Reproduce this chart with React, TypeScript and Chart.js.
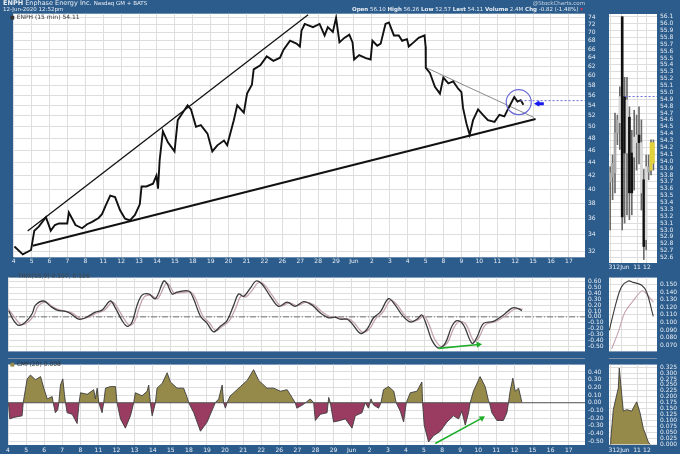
import React, { useEffect, useRef } from "react";
import { Chart, registerables } from "chart.js";

Chart.register(...registerables);

// ---------------- data ----------------
const dayLabels = ["4","5","6","7","8","11","12","13","14","15","18","19","20","21","22","26","27","28","29","Jun","2","3","4","5","8","9","10","11","12","15","16","17"];
const dayTicks = dayLabels.map((_, i) => i);
const priceTicks = [32,34,36,38,40,42,44,46,48,50,52,54,56,58,60,62,64,66,68,70,72,74];

const priceTime = [0.04,0.51,0.97,1.15,1.40,1.80,2.07,2.30,2.53,2.99,3.08,3.45,3.82,4.10,4.38,4.74,4.93,5.11,5.39,5.66,5.94,6.22,6.49,6.77,7.04,7.14,7.41,7.78,7.97,8.06,8.15,8.33,8.61,8.98,9.16,9.71,9.90,10.18,10.45,10.82,11.09,11.37,11.74,11.92,12.29,12.48,12.85,13.03,13.30,13.40,13.77,14.13,14.50,14.87,15.06,15.43,15.79,15.98,16.07,16.25,16.71,17.08,17.36,17.54,17.82,18.00,18.19,18.46,18.74,18.92,19.01,19.29,19.66,19.93,20.03,20.30,20.49,20.76,20.95,21.23,21.50,21.69,21.96,22.06,22.33,22.61,22.94,23.00,23.01,23.24,23.52,23.80,23.99,24.27,24.54,24.82,25.00,25.09,25.28,25.46,25.65,25.93,26.20,26.48,26.85,27.12,27.40,27.59,27.95,28.13,28.31,28.46];
const priceValue = [32.6,31.7,32.2,34.5,35.0,36.2,34.5,35.2,35.4,35.4,36.8,35.2,34.8,35.3,35.6,36.1,36.6,37.6,39.1,38.9,37.1,36.0,35.8,36.5,37.9,40.4,40.4,40.8,42.0,40.1,44.4,49.2,47.3,45.8,51.2,54.0,53.2,50.0,50.3,48.8,45.8,46.8,47.6,46.8,51.2,54.0,52.6,56.3,58.1,61.4,62.3,64.3,63.3,64.0,65.8,68.0,67.3,66.6,70.5,72.2,71.4,72.2,69.3,71.4,70.2,73.8,67.6,68.7,69.5,67.6,63.6,64.6,63.9,63.6,68.0,66.8,67.3,72.2,72.6,69.3,69.3,68.0,68.4,66.6,67.6,68.7,69.3,66.6,61.7,60.6,57.7,56.3,59.6,58.4,58.8,57.3,56.6,53.5,50.6,48.6,51.2,53.2,52.2,51.2,50.9,52.2,51.9,53.2,55.6,54.7,55.0,54.1];

// hand-drawn annotations on the price panel
const upperLineTime = [0.78, 16.44];
const upperLineValue = [34.46, 74.6];
const lowerLineTime = [1.06, 29.14];
const lowerLineValue = [32.7, 51.4];
const grayLineTime = [23.07, 29.05];
const grayLineValue = [61.7, 51.7];
const circleTime = [28.2];
const circleValue = [54.6];
const blueArrowTime = [29.25, 29.6];
const blueArrowValue = [54.3, 54.3];
const lastLineTime = [28.3, 31.9];
const lastLineValue = [54.9, 54.9];

// TRIX panel
const trixTicks = [-0.5,-0.4,-0.3,-0.2,-0.1,0,0.1,0.2,0.3,0.4,0.5,0.6];
const trixTime = [0.04,0.32,0.60,0.97,1.34,1.52,1.98,2.35,2.72,3.18,3.45,3.91,4.28,4.83,5.20,5.66,5.94,6.31,6.59,6.86,7.14,7.41,7.78,8.15,8.61,8.80,9.07,9.35,9.99,10.27,10.64,11.01,11.37,11.74,12.11,12.48,12.75,13.03,13.40,13.71,14.04,14.50,14.96,15.43,15.88,16.34,16.81,17.27,17.72,18.09,18.37,18.74,19.01,19.48,19.85,20.21,20.58,21.04,21.41,21.78,22.24,22.61,22.88,23.16,23.44,23.80,24.17,24.54,24.82,25.18,25.65,25.92,26.29,26.84,27.39,27.86,28.13,28.41];
const trixValue = [0.105,-0.063,-0.145,-0.087,0.058,0.20,0.27,0.18,0.115,0.095,0.058,-0.04,-0.015,0.08,0.115,0.27,0.15,-0.063,-0.16,-0.087,0.20,0.37,0.39,0.31,0.61,0.56,0.39,0.42,0.44,0.30,0.01,-0.11,-0.255,-0.16,-0.063,0.20,0.39,0.35,0.49,0.61,0.56,0.35,0.18,0.25,0.18,0.26,0.20,0.066,-0.015,-0.006,-0.04,-0.04,-0.11,-0.28,-0.21,-0.015,0.08,0.31,0.20,0.033,-0.087,-0.04,0.033,-0.16,-0.40,-0.53,-0.45,-0.16,-0.063,-0.135,-0.45,-0.35,-0.11,-0.078,0.033,0.15,0.15,0.107];
const signalTime = [0.0,0.40,0.72,1.10,1.46,1.66,2.10,2.48,2.85,3.30,3.58,4.03,4.40,4.95,5.32,5.78,6.06,6.43,6.71,6.98,7.26,7.53,7.90,8.27,8.73,8.92,9.19,9.47,10.11,10.39,10.76,11.13,11.49,11.86,12.23,12.60,12.87,13.15,13.52,13.83,14.16,14.62,15.08,15.55,16.00,16.46,16.93,17.39,17.84,18.21,18.49,18.86,19.13,19.60,19.97,20.33,20.70,21.16,21.53,21.90,22.36,22.73,23.00,23.28,23.56,23.92,24.29,24.66,24.94,25.30,25.77,26.04,26.41,26.96,27.51,27.98,28.25,28.45];
const signalValue = [0.14,-0.02,-0.13,-0.09,0.04,0.18,0.25,0.17,0.12,0.09,0.06,-0.03,-0.01,0.07,0.11,0.25,0.15,-0.04,-0.14,-0.09,0.16,0.34,0.37,0.31,0.57,0.54,0.40,0.41,0.42,0.30,0.02,-0.10,-0.23,-0.16,-0.07,0.16,0.35,0.34,0.46,0.58,0.55,0.36,0.19,0.24,0.19,0.25,0.20,0.08,0.00,-0.01,-0.03,-0.04,-0.10,-0.26,-0.21,-0.03,0.07,0.28,0.20,0.04,-0.07,-0.04,0.02,-0.13,-0.36,-0.50,-0.44,-0.18,-0.08,-0.12,-0.42,-0.35,-0.13,-0.08,0.02,0.13,0.14,0.126];
const trixArrowTime = [23.80, 26.01];
const trixArrowValue = [-0.535, -0.47];

// CMF panel
const cmfTicks = [-0.5,-0.4,-0.3,-0.2,-0.1,0,0.1,0.2,0.3,0.4];
const cmfTime = [0.02,0.10,0.32,0.78,0.84,1.06,1.24,1.52,1.80,1.98,2.17,2.44,2.50,2.62,2.75,2.81,2.90,3.03,3.12,3.18,3.27,3.55,3.82,3.93,4.01,4.38,4.74,4.83,4.93,5.02,5.20,5.29,5.39,5.66,5.94,6.03,6.22,6.49,6.77,6.95,7.04,7.41,7.69,7.78,7.87,7.97,8.15,8.24,8.52,8.80,8.98,9.35,9.71,9.90,9.99,10.27,10.64,11.01,11.37,11.46,11.65,11.84,11.92,12.02,12.11,12.29,12.48,12.85,13.22,13.58,13.86,14.32,14.69,15.06,15.43,15.70,15.88,15.97,16.34,16.71,16.90,16.99,17.27,17.64,17.73,17.82,18.00,18.37,18.65,19.02,19.20,19.57,19.75,19.93,20.07,20.21,20.49,20.62,20.76,21.04,21.33,21.46,21.69,21.87,22.02,22.24,22.61,22.88,22.92,23.01,23.25,23.52,23.90,24.27,24.63,24.91,25.09,25.28,25.46,25.55,25.73,26.10,26.38,26.56,26.62,26.75,27.03,27.39,27.58,27.67,27.76,27.91,28.04,28.23,28.41];
const cmfValue = [0,-0.21,-0.19,-0.17,0,0.31,0.36,0.30,0.34,0.19,0.05,0.08,0,-0.13,-0.09,0,0.23,0.31,0.11,0,-0.13,-0.15,-0.27,0,0.13,0.11,0.17,0.05,0.19,0,-0.13,0,0.19,0.21,0.21,0,-0.21,-0.33,-0.17,0,0.13,0.09,0.15,0.23,0,-0.17,0,0.19,0.25,0.39,0.27,0.19,0.19,0.07,0,-0.13,-0.37,-0.25,-0.05,0,0.05,0.23,0,-0.07,0,0.09,0.13,0.21,0.29,0.43,0.29,0.19,0.19,0.15,0.17,0.07,0,-0.07,-0.02,0.05,0,-0.23,-0.15,-0.13,0.07,0,-0.25,-0.23,-0.21,-0.33,-0.17,-0.13,0,-0.07,0.05,-0.03,-0.07,0,0.17,0.21,0.15,0,-0.11,-0.25,0,0.13,0.15,0.27,0,-0.29,-0.51,-0.43,-0.37,-0.25,-0.17,-0.21,-0.11,-0.29,-0.13,0,0.15,0.34,0.21,0.03,0,-0.13,-0.23,-0.23,-0.13,0,0.15,0.32,0.15,0.19,0.008];
const cmfArrowTime = [23.62, 26.20];
const cmfArrowValue = [-0.53, -0.20];

// mini (zoomed) panels on the right
const miniLabels = ["3", "12Jun", "11", "12"];
const miniLabelPos = [0.6, 5.0, 11.7, 15.8];
const miniPriceTicks = [52.6,52.7,52.8,52.9,53.0,53.1,53.2,53.3,53.4,53.5,53.6,53.7,53.8,53.9,54.0,54.1,54.2,54.3,54.4,54.5,54.6,54.7,54.8,54.9,55.0,55.1,55.2,55.3,55.4,55.5,55.6,55.7,55.8,55.9,56.0,56.1];
const candleBodyHigh = [53.83,53.97,54.41,54.60,54.94,56.10,54.94,54.89,54.64,54.12,54.35,54.38,54.38,54.27,53.73,53.92,53.92,54.27,54.27];
const candleBodyLow = [53.70,53.77,53.83,54.41,54.56,53.19,54.12,54.12,53.54,53.54,54.06,54.27,54.27,53.54,52.76,52.86,53.84,53.87,53.97];
const candleWickHigh = [53.92,54.09,54.70,54.67,55.08,56.10,55.22,55.22,54.79,54.45,54.74,54.67,54.79,54.60,53.88,54.09,54.09,54.31,54.31];
const candleWickLow = [53.00,53.44,53.54,54.24,54.17,53.00,53.10,53.22,53.15,53.22,53.58,53.87,53.96,53.29,52.57,52.71,53.73,53.80,53.87];
const candleKind = ["gray","gray","gray","gray","white","black","black","white","black","black","white","white","black","white","black","white","gray","yellow","yellow"];
const miniLastTime = [6.5, 20];
const miniLastValue = [54.94, 54.94];

const miniTrixTicks = [0.07,0.08,0.09,0.10,0.11,0.12,0.13,0.14,0.15];
const miniTrixTime = [0.12,3.21,5.29,8.04,10.13,13.63,15.71,18.46];
const miniTrixValue = [0.0894,0.1285,0.147,0.1545,0.1526,0.1489,0.1396,0.1079];
const miniSignalTime = [1.13,3.88,6.67,10.13,13.63,15.0,18.46];
const miniSignalValue = [0.0652,0.0875,0.1135,0.1285,0.1414,0.1396,0.1266];

const miniCmfTicks = [0,0.025,0.05,0.075,0.1,0.125,0.15,0.175,0.2,0.225,0.25,0.275,0.3,0.325];
const miniCmfTime = [0.5,0.71,1.79,3.88,4.29,5.29,5.96,7.38,9.46,10.83,11.54,12.92,14.29,16.38,17.08];
const miniCmfValue = [0,0.017,0.146,0.237,0.321,0.211,0.140,0.146,0.140,0.166,0.179,0.133,0.068,0.010,0];

// ---------------- styling ----------------
const FRAME = "#2c5c8b";
const LABEL = "#e8eef6";
const GRID = "#dedede";
const FONT = "DejaVu Sans, Verdana, sans-serif";
const OLIVE = "#958a4a";
const MAROON = "#9a3c62";
const GREEN = "#1fae2a";
const CANDLE_COLORS: any = { gray: "#a8a8a8", white: "#d8d8d8", black: "#111111", yellow: "#e2d23a" };

const pts = (t: number[], v: number[]) => t.map((x, i) => ({ x, y: v[i] }));

const whiteArea = {
  id: "whiteArea",
  beforeDraw(chart: any) {
    const { ctx, chartArea: a } = chart;
    ctx.save();
    ctx.fillStyle = "#ffffff";
    ctx.fillRect(a.left, a.top, a.right - a.left, a.bottom - a.top);
    ctx.restore();
  },
};

const tickFont = { family: FONT, size: 6 };

function xScale(min: number, max: number, tickVals: number[], labels: string[], labelHeight: number, pad: number) {
  return {
    type: "linear",
    min,
    max,
    bounds: "data",
    offset: false,
    afterBuildTicks: (s: any) => { s.ticks = tickVals.map((v) => ({ value: v })); },
    afterFit: (s: any) => { s.height = labelHeight; },
    grid: { color: GRID, drawTicks: false, lineWidth: 1, offset: false },
    border: { display: false },
    ticks: {
      display: labelHeight > 0,
      autoSkip: false,
      maxRotation: 0,
      color: LABEL,
      font: tickFont,
      padding: pad,
      callback: (_v: any, i: number) => labels[i],
    },
  };
}

function yScale(type: string, min: number, max: number, tickVals: number[], digits: number, width: number) {
  return {
    type,
    position: "right",
    min,
    max,
    bounds: "data",
    afterBuildTicks: (s: any) => { s.ticks = tickVals.map((v) => ({ value: v })); },
    afterFit: (s: any) => { s.width = width; },
    grid: { color: GRID, drawTicks: false, lineWidth: 1 },
    border: { display: false },
    ticks: {
      autoSkip: false,
      color: LABEL,
      font: tickFont,
      padding: 3,
      callback: (v: any) => Number(v).toFixed(digits),
    },
  };
}

function opts(scales: any, padding: any) {
  return {
    responsive: false,
    maintainAspectRatio: false,
    animation: false,
    events: [],
    layout: { padding },
    plugins: { legend: { display: false }, tooltip: { enabled: false } },
    scales,
  };
}

const line = (data: any, color: string, width: number, extra: any = {}) => ({
  type: "line",
  data,
  borderColor: color,
  borderWidth: width,
  pointRadius: 0,
  tension: 0,
  fill: false,
  ...extra,
});

// ---------------- chart configs ----------------
function mainConfig() {
  return {
    type: "line",
    data: {
      datasets: [
        line(pts(circleTime, circleValue), "#6a6ad8", 1, {
          showLine: false, pointRadius: 12.5, pointBackgroundColor: "rgba(0,0,0,0)", pointBorderColor: "#6a6ad8", pointBorderWidth: 1.2,
        }),
        line(pts(blueArrowTime, blueArrowValue), "#1717f0", 3, {
          pointRadius: [3.6, 0], pointStyle: "triangle", pointRotation: [-90, 0], pointBackgroundColor: "#1717f0", pointBorderColor: "#1717f0", pointBorderWidth: 0,
        }),
        line(pts(lastLineTime, lastLineValue), "#6a6ad8", 1, { borderDash: [2, 2] }),
        line(pts(priceTime, priceValue), "#111111", 1.9),
        line(pts(upperLineTime, upperLineValue), "#111111", 1.3),
        line(pts(lowerLineTime, lowerLineValue), "#111111", 2),
        line(pts(grayLineTime, grayLineValue), "#8a8a8a", 1),
      ],
    },
    options: opts(
      {
        x: xScale(0, 31.9, dayTicks, dayLabels, 7, 1),
        y: yScale("logarithmic", 31.37, 74.9, priceTicks, 0, 19),
      },
      { left: 8, top: 12, right: 0, bottom: 0 }
    ),
    plugins: [whiteArea],
  };
}

function trixConfig() {
  return {
    type: "line",
    data: {
      datasets: [
        line(pts(trixArrowTime, trixArrowValue), GREEN, 1.6, {
          pointRadius: [0, 3.6], pointStyle: "triangle", pointRotation: [0, 84], pointBackgroundColor: GREEN, pointBorderColor: GREEN, pointBorderWidth: 0,
        }),
        line(pts(trixTime, trixValue), "#3a3a3a", 1.3, { tension: 0.35 }),
        line(pts(signalTime, signalValue), "#c4a3ac", 1.3, { tension: 0.35 }),
        line(pts([0, 31.9], [0, 0]), "#555555", 0.8, { borderDash: [6, 2, 1, 2] }),
      ],
    },
    options: opts(
      {
        x: xScale(0, 31.9, dayTicks, dayLabels, 0, 0),
        y: yScale("linear", -0.587, 0.668, trixTicks, 2, 19),
      },
      { left: 8, top: 0, right: 0, bottom: 0 }
    ),
    plugins: [whiteArea],
  };
}

function cmfConfig() {
  return {
    type: "line",
    data: {
      datasets: [
        line(pts(cmfArrowTime, cmfArrowValue), GREEN, 1.6, {
          pointRadius: [0, 3.6], pointStyle: "triangle", pointRotation: [0, 58], pointBackgroundColor: GREEN, pointBorderColor: GREEN, pointBorderWidth: 0,
        }),
        line(pts([0, 31.9], [0, 0]), "#555555", 1),
        line(pts(cmfTime, cmfValue), "#3d3d3d", 0.9, {
          fill: { target: { value: 0 }, above: OLIVE, below: MAROON },
        }),
      ],
    },
    options: opts(
      {
        x: xScale(0, 31.9, dayTicks, dayLabels, 9, 2),
        y: yScale("linear", -0.549, 0.496, cmfTicks, 2, 19),
      },
      { left: 8, top: 0, right: 0, bottom: 0 }
    ),
    plugins: [whiteArea],
  };
}

function miniPriceConfig() {
  const colors = candleKind.map((k) => CANDLE_COLORS[k]);
  return {
    type: "bar",
    data: {
      datasets: [
        line(pts(miniLastTime, miniLastValue), "#6a6ad8", 1, { borderDash: [2, 2] }),
        {
          type: "bar",
          data: candleBodyLow.map((lo, i) => ({ x: i + 0.5, y: [lo, candleBodyHigh[i]] })),
          backgroundColor: colors,
          barThickness: 2,
          grouped: false,
        },
        {
          type: "bar",
          data: candleWickLow.map((lo, i) => ({ x: i + 0.5, y: [lo, candleWickHigh[i]] })),
          backgroundColor: "#6a6a6a",
          barThickness: 1,
          grouped: false,
        },
      ],
    },
    options: opts(
      {
        x: xScale(0, 20, miniLabelPos, miniLabels, 8, 1),
        y: yScale("linear", 52.52, 56.14, miniPriceTicks, 1, 23),
      },
      { left: 5, top: 14, right: 0, bottom: 0 }
    ),
    plugins: [whiteArea],
  };
}

function miniTrixConfig() {
  return {
    type: "line",
    data: {
      datasets: [
        line(pts(miniTrixTime, miniTrixValue), "#3a3a3a", 1.1, { tension: 0.35 }),
        line(pts(miniSignalTime, miniSignalValue), "#c4a3ac", 1.1, { tension: 0.35 }),
      ],
    },
    options: opts(
      {
        x: xScale(0, 20, miniLabelPos, miniLabels, 0, 0),
        y: yScale("linear", 0.0618, 0.1589, miniTrixTicks, 3, 23),
      },
      { left: 5, top: 0, right: 0, bottom: 0 }
    ),
    plugins: [whiteArea],
  };
}

function miniCmfConfig() {
  return {
    type: "line",
    data: {
      datasets: [
        line(pts(miniCmfTime, miniCmfValue), "#3d3d3d", 0.9, { fill: "origin", backgroundColor: OLIVE }),
      ],
    },
    options: opts(
      {
        x: xScale(0, 20, miniLabelPos, miniLabels, 9, 2),
        y: yScale("linear", -0.0027, 0.3355, miniCmfTicks, 3, 23),
      },
      { left: 5, top: 0, right: 0, bottom: 0 }
    ),
    plugins: [whiteArea],
  };
}

// ---------------- components ----------------
function Panel({ left, top, width, height, make }: any) {
  const ref = useRef<HTMLCanvasElement | null>(null);
  useEffect(() => {
    const chart = new Chart(ref.current as any, make() as any);
    return () => chart.destroy();
  }, []);
  return (
    <canvas
      ref={ref}
      width={width}
      height={height}
      style={{ position: "absolute", left, top, width, height, display: "block" }}
    />
  );
}

const txt = (style: any): any => ({
  position: "absolute",
  fontFamily: FONT,
  fontSize: 6,
  lineHeight: "7px",
  whiteSpace: "nowrap",
  color: LABEL,
  zIndex: 5,
  ...style,
});

export default function App() {
  return (
    <div style={{ position: "fixed", left: 0, top: 0, width: 680, height: 454, background: FRAME, overflow: "hidden" }}>
      <Panel left={0} top={0} width={604} height={271} make={mainConfig} />
      <Panel left={0} top={271} width={604} height={87} make={trixConfig} />
      <Panel left={0} top={358} width={604} height={96} make={cmfConfig} />
      <Panel left={604} top={0} width={76} height={271} make={miniPriceConfig} />
      <Panel left={604} top={271} width={76} height={87} make={miniTrixConfig} />
      <Panel left={604} top={358} width={76} height={96} make={miniCmfConfig} />

      <div style={{ position: "absolute", left: 8, top: 358, width: 577, height: 1, background: "#7f90a8", zIndex: 4 }} />
      <div style={{ position: "absolute", left: 609, top: 358, width: 48, height: 1, background: "#7f90a8", zIndex: 4 }} />

      <div style={txt({ left: 3, top: 0, fontSize: 6.5 })}>
        <b>ENPH</b> Enphase Energy Inc. <span style={{ fontSize: 5.5 }}>Nasdaq GM + BATS</span>
      </div>
      <div style={txt({ left: 3, top: 6, fontSize: 5.5 })}>12-Jun-2020 12:52pm</div>
      <div style={txt({ right: 95, top: 0, fontSize: 5.5, color: "#c9d6e6" })}>@StockCharts.com</div>
      <div style={txt({ right: 97, top: 6, fontSize: 5.5 })}>
        <b>Open</b> 56.10 <b>High</b> 56.26 <b>Low</b> 52.57 <b>Last</b> 54.11 <b>Volume</b> 2.4M <b>Chg</b> -0.82 (-1.48%) <span style={{ color: "#e03050" }}>▾</span>
      </div>

      <div style={txt({ left: 10, top: 13, color: "#333333" })}>
        <span style={{ fontSize: 5 }}>■</span> ENPH (15 min) 54.11
      </div>
      <div style={txt({ left: 10, top: 272, color: "#444444" })}>— TRIX(15,9) 0.107, 0.126</div>
      <div style={txt({ left: 10, top: 360, color: "#333333" })}>
        <span style={{ color: OLIVE, fontSize: 5 }}>■</span> CMF(20) 0.008
      </div>
    </div>
  );
}
